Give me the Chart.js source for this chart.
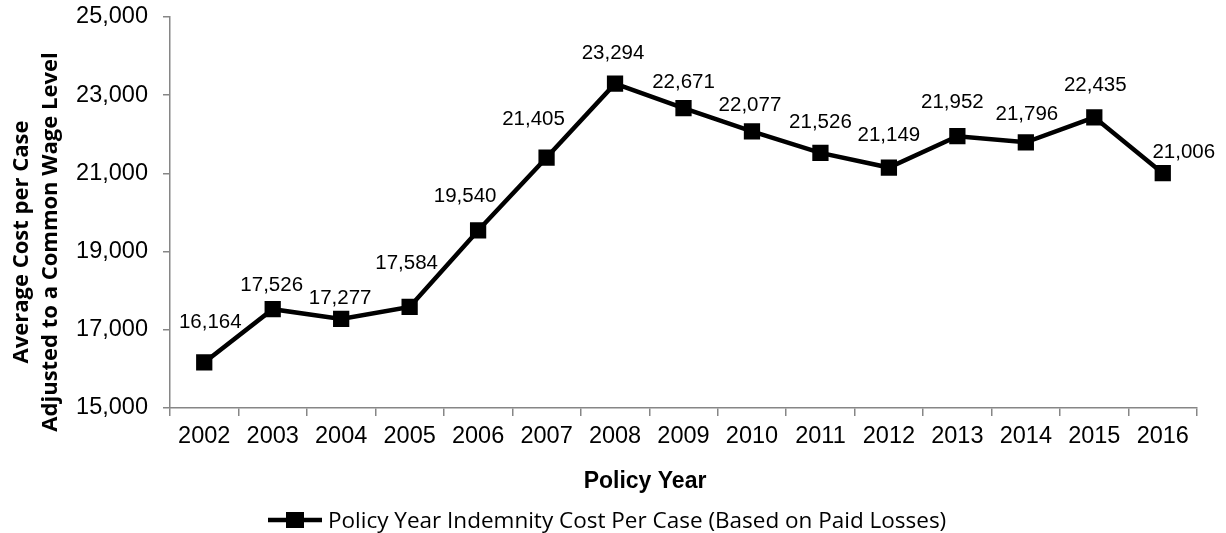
<!DOCTYPE html>
<html><head><meta charset="utf-8">
<script src="https://cdn.jsdelivr.net/npm/chart.js@4/dist/chart.umd.min.js"></script>
<style>html,body{margin:0;padding:0;background:#fff}#wrap{width:1226px;height:533px;position:relative}</style>
</head><body><div id="wrap"><canvas id="c" width="1226" height="533"></canvas></div>
<script>
const categories = ['2002','2003','2004','2005','2006','2007','2008','2009','2010','2011','2012','2013','2014','2015','2016'];
const values = [16164,17526,17277,17584,19540,21405,23294,22671,22077,21526,21149,21952,21796,22435,21006];
const yTickValues = [15000,17000,19000,21000,23000,25000];
const seriesName = 'Policy Year Indemnity Cost Per Case (Based on Paid Losses)';
const xTitle = 'Policy Year';
const yTitle = ['Average Cost per Case','Adjusted to a Common Wage Level'];

const AXIS = '#868686';
const fmt = v => Number(v).toLocaleString('en-US');
// label placement nudges (dx, dy) relative to each point
const labelNudge = [[6,-40],[-1,-24],[-1,-21],[-3,-44],[-13,-34],[-13,-38],[-2,-30],[0,-26],[-2,-26],[0,-30],[0,-32],[-5,-34],[1,-28],[1,-32],[21,-21]];

const dataLabels = {
  id:'dataLabels',
  afterDatasetsDraw(chart){
    const ctx = chart.ctx;
    const meta = chart.getDatasetMeta(0);
    ctx.save();
    ctx.font = '20.5px "Liberation Sans", Arial, sans-serif';
    ctx.fillStyle = '#000';
    ctx.textAlign = 'center';
    ctx.textBaseline = 'middle';
    meta.data.forEach((pt,i)=>{
      const n = labelNudge[i] || [0,-26];
      ctx.fillText(fmt(chart.data.datasets[0].data[i]), pt.x + n[0], pt.y + n[1]);
    });
    ctx.restore();
  }
};

const titlesAndLegend = {
  id:'titlesAndLegend',
  afterDraw(chart){
    const ctx = chart.ctx;
    ctx.save();
    ctx.fillStyle = '#000';
    // x axis title
    ctx.font = 'bold 23px "Liberation Sans", Arial, sans-serif';
    ctx.textAlign = 'center';
    ctx.textBaseline = 'alphabetic';
    ctx.fillText(xTitle, 645, 488);
    // y axis title (rotated)
    ctx.save();
    ctx.translate(0, 242);
    ctx.rotate(-Math.PI/2);
    ctx.font = 'bold 22px "Open Sans", sans-serif';
    ctx.textAlign = 'center';
    ctx.textBaseline = 'alphabetic';
    ctx.fillText(yTitle[0], 0, 28);
    ctx.fillText(yTitle[1], 0, 56.5);
    ctx.restore();
    // legend
    const x0 = 268, lineW = 54, y = 520;
    ctx.strokeStyle = '#000';
    ctx.lineWidth = 4.5;
    ctx.beginPath(); ctx.moveTo(x0, y); ctx.lineTo(x0 + lineW, y); ctx.stroke();
    ctx.fillRect(x0 + lineW/2 - 9, y - 8, 18, 16);
    ctx.font = '22.5px "Open Sans", sans-serif';
    ctx.textAlign = 'left';
    ctx.textBaseline = 'alphabetic';
    ctx.fillText(chart.data.datasets[0].label, 328, 528);
    ctx.restore();
  }
};

new Chart(document.getElementById('c'), {
  type:'line',
  data:{
    labels: categories,
    datasets:[{
      label: seriesName,
      data: values,
      borderColor:'#000',
      backgroundColor:'#000',
      borderWidth:4.5,
      pointStyle:'rect',
      pointRadius:11.5,
      pointHoverRadius:11.5,
      pointBorderWidth:0,
      pointBackgroundColor:'#000',
      tension:0,
      fill:false
    }]
  },
  options:{
    responsive:false,
    animation:false,
    devicePixelRatio:1,
    layout:{padding:{left:0,right:29,top:17,bottom:35}},
    plugins:{legend:{display:false},tooltip:{enabled:false}},
    scales:{
      x:{
        offset:true,
        grid:{display:true,drawOnChartArea:false,offset:true,tickLength:8,color:AXIS,lineWidth:1.5},
        border:{display:true,color:AXIS,width:1.5},
        ticks:{color:'#000',font:{family:'"Liberation Sans", Arial, sans-serif',size:23.5},padding:6,maxRotation:0,autoSkip:false},
        afterFit(s){ s.height = 90; s.paddingLeft = 0; s.paddingRight = 0; }
      },
      y:{
        min:15000,max:25000,
        grid:{display:true,drawOnChartArea:false,tickLength:7,color:AXIS,lineWidth:1.5},
        border:{display:true,color:AXIS,width:1.5},
        afterBuildTicks(s){ s.ticks = yTickValues.map(v=>({value:v})); },
        ticks:{color:'#000',font:{family:'"Liberation Sans", Arial, sans-serif',size:23.5},padding:15,callback:v=>fmt(v)},
        afterFit(s){ s.width = 170; s.paddingTop = 0; s.paddingBottom = 0; }
      }
    }
  },
  plugins:[dataLabels, titlesAndLegend]
});
</script>
</body></html>
